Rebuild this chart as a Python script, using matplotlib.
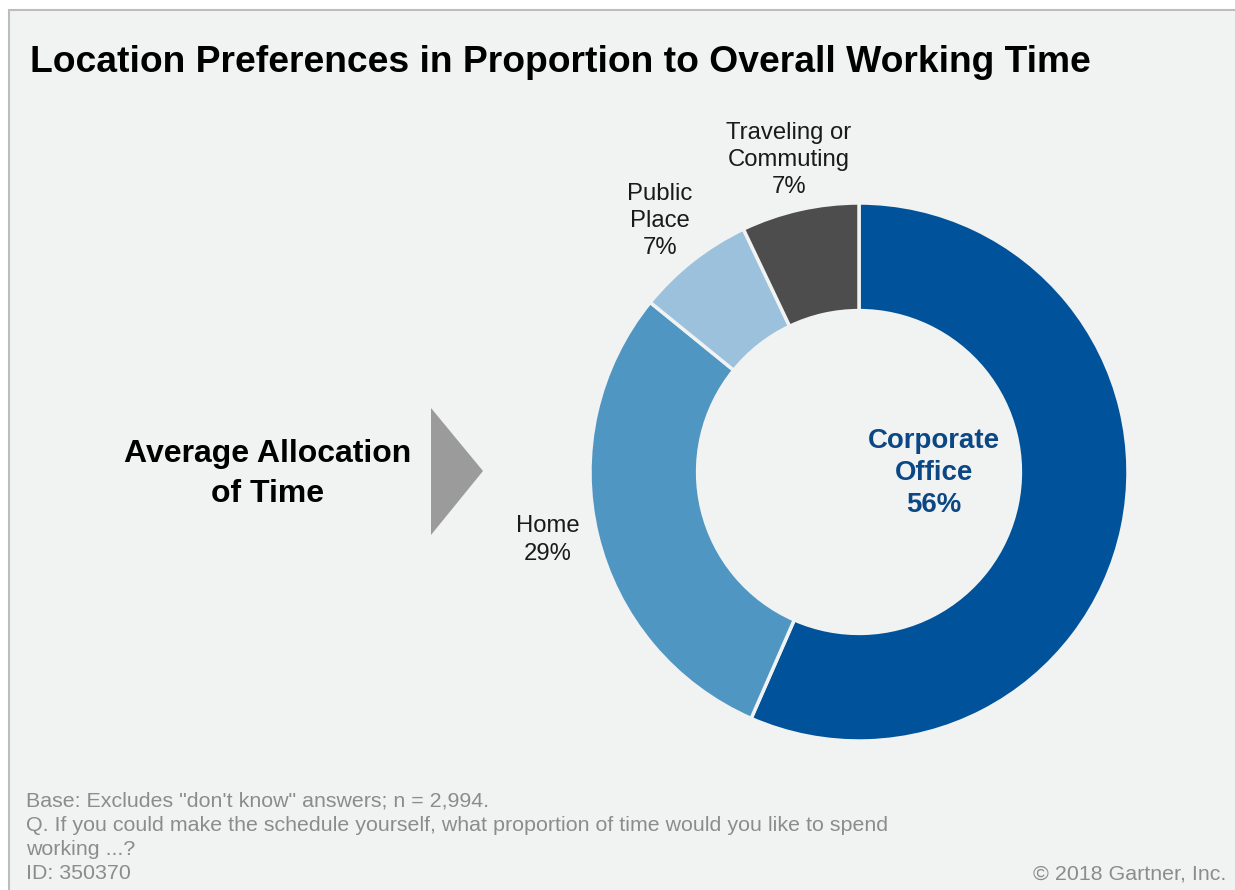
import matplotlib.pyplot as plt
from matplotlib.patches import Rectangle, Polygon

plt.rcParams['font.family'] = ['Liberation Sans', 'DejaVu Sans']

# data
locations = ['Corporate\nOffice', 'Home', 'Public\nPlace', 'Traveling or\nCommuting']
shares = [56, 29, 7, 7]
colors = ['#00539b', '#4f96c2', '#9bc1dd', '#4d4d4d']

W, H = 1235, 890
fig = plt.figure(figsize=(W / 100, H / 100), dpi=100)
fig.patch.set_facecolor('white')


def fx(px):
    return px / W


def fy(py):
    return 1 - py / H


# panel background with grey border on top/left
fig.patches.append(Rectangle((fx(9), -0.05), 1.1, fy(10) + 0.05, transform=fig.transFigure,
                             facecolor='#f1f2f2', edgecolor='#bdbdbd', linewidth=1.5, zorder=-5))

fig.text(fx(30), fy(63), 'Location Preferences in Proportion to Overall Working Time',
         fontsize=26.8, fontweight='bold', color='black', va='center', ha='left')

# donut
cx, cy, r = 859, 472, 269
ax = fig.add_axes([fx(cx - r), fy(cy + r), 2 * r / W, 2 * r / H])
ax.set_zorder(2)
ax.set_facecolor('none')
wedges, _ = ax.pie(shares, colors=colors, startangle=90, counterclock=False,
                   wedgeprops=dict(width=0.4, edgecolor='#f1f2f2', linewidth=2.5))
ax.set_xlim(-1, 1)
ax.set_ylim(-1, 1)
ax.set_aspect('equal')
ax.axis('off')

fig.text(fx(934), fy(473), locations[0] + '\n' + str(shares[0]) + '%', fontsize=19.9,
         fontweight='bold', color='#0b4785', ha='center', va='center', linespacing=1.32)
fig.text(fx(548), fy(540), locations[1] + '\n' + str(shares[1]) + '%', fontsize=17.2,
         color='#1a1a1a', ha='center', va='center', linespacing=1.3)
fig.text(fx(660), fy(221), locations[2] + '\n' + str(shares[2]) + '%', fontsize=17.2,
         color='#1a1a1a', ha='center', va='center', linespacing=1.3)
fig.text(fx(789), fy(160), locations[3] + '\n' + str(shares[3]) + '%', fontsize=17.2,
         color='#1a1a1a', ha='center', va='center', linespacing=1.3)

# left side caption and arrow
fig.text(fx(268), fy(474), 'Average Allocation\nof Time', fontsize=23, fontweight='bold',
         ha='center', va='center', linespacing=1.4)
fig.patches.append(Polygon([(fx(431), fy(408)), (fx(431), fy(535)), (fx(483), fy(471))],
                           closed=True, transform=fig.transFigure, facecolor='#9b9b9b',
                           edgecolor='none'))

# footer
foot = ['Base: Excludes "don\'t know" answers; n = 2,994.',
        'Q. If you could make the schedule yourself, what proportion of time would you like to spend',
        'working ...?',
        'ID: 350370']
for i, line in enumerate(foot):
    fig.text(fx(26), fy(801 + i * 24.3), line, fontsize=15.4, color='#8c8c8c', va='center', ha='left')
fig.text(fx(1226), fy(874), '\u00a9 2018 Gartner, Inc.', fontsize=15.4, color='#8c8c8c',
         va='center', ha='right')

fig.savefig('out.png', dpi=100, facecolor=fig.get_facecolor())
